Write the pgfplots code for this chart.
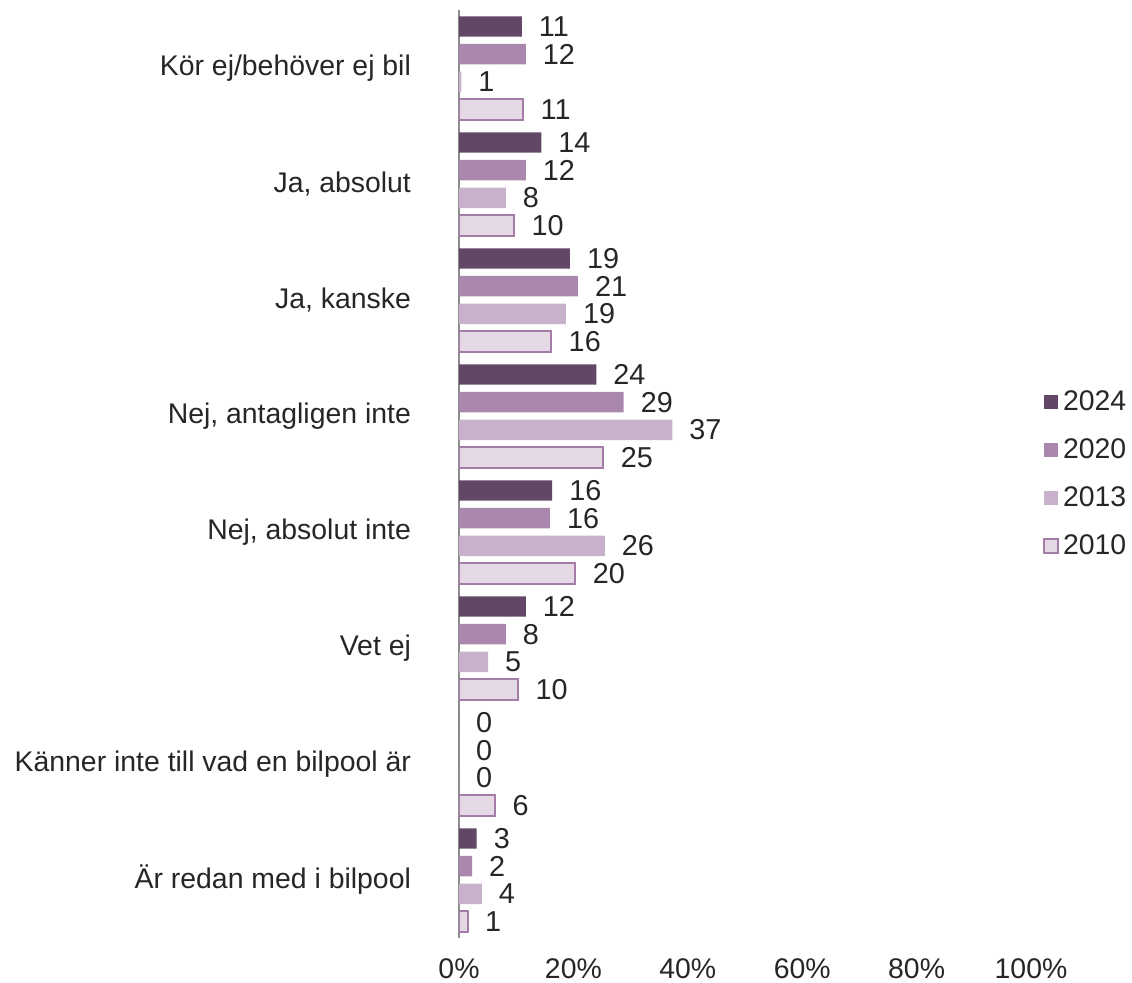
\documentclass[border=0pt]{standalone}
\usepackage{fontspec}
\setmainfont{Liberation Sans}
\usepackage{pgfplots}
\pgfplotsset{compat=1.18}
\definecolor{c24}{RGB}{99,71,103}
\definecolor{c20}{RGB}{170,135,172}
\definecolor{c13}{RGB}{200,177,202}
\definecolor{c10}{RGB}{228,216,229}
\definecolor{c10b}{RGB}{163,124,167}
\definecolor{txt}{RGB}{38,38,38}
\begin{document}
\begin{tikzpicture}
\begin{axis}[
  scale only axis, width=286pt, height=464pt,
  xbar, bar width=10.2pt,
  xmin=0, xmax=100, ymin=-0.5, ymax=7.5, y dir=reverse,
  axis lines*=left,
  x axis line style={draw=none},
  y axis line style={draw=black!45, line width=1pt},
  major tick length=0pt,
  ytick={0,...,7},
  yticklabels={Kör ej/behöver ej bil, {Ja, absolut}, {Ja, kanske}, {Nej, antagligen inte}, {Nej, absolut inte}, Vet ej, Känner inte till vad en bilpool är, Är redan med i bilpool},
  xtick={0,20,40,60,80,100},
  xticklabel={\pgfmathprintnumber{\tick}\%},
  /pgf/number format/assume math mode=true,
  ticklabel style={font=\fontsize{14.2}{16}\selectfont, text=txt},
  xticklabel style={yshift=-7pt},
  yticklabel style={xshift=-20.5pt},
  point meta=explicit symbolic,
  nodes near coords,
  nodes near coords align=horizontal,
  nodes near coords style={font=\fontsize{14.4}{16}\selectfont, text=txt, anchor=west, xshift=5pt},
  legend style={at={(1.01,0.5)}, anchor=west, draw=none, fill=none, font=\fontsize{14.2}{16}\selectfont, text=txt, row sep=8.6pt},
  legend image code/.code={\path[#1] (0pt,-3.5pt) rectangle (7pt,3.5pt);},
  legend cell align=left,
]
\addplot[fill=c24, draw=none, bar shift=20.775pt] coordinates {(11,0)[11] (14.4,1)[14] (19.4,2)[19] (24,3)[24] (16.3,4)[16] (11.7,5)[12] (0,6)[0] (3.1,7)[3]};
\addplot[fill=c20, draw=none, bar shift=6.925pt] coordinates {(11.7,0)[12] (11.7,1)[12] (20.8,2)[21] (28.8,3)[29] (15.9,4)[16] (8.2,5)[8] (0,6)[0] (2.3,7)[2]};
\addplot[fill=c13, draw=none, bar shift=-6.925pt] coordinates {(0.4,0)[1] (8.2,1)[8] (18.7,2)[19] (37.3,3)[37] (25.5,4)[26] (5.1,5)[5] (0,6)[0] (4,7)[4]};
\addplot[fill=c10, draw=c10b, line width=1pt, bar shift=-20.775pt] coordinates {(11.2,0)[11] (9.6,1)[10] (16.1,2)[16] (25.2,3)[25] (20.3,4)[20] (10.3,5)[10] (6.3,6)[6] (1.5,7)[1]};
\legend{2024,2020,2013,2010}
\end{axis}
\pgfresetboundingbox
\path[use as bounding box] (-229.5pt,-22pt) rectangle (336.5pt,469pt);
\end{tikzpicture}
\end{document}
